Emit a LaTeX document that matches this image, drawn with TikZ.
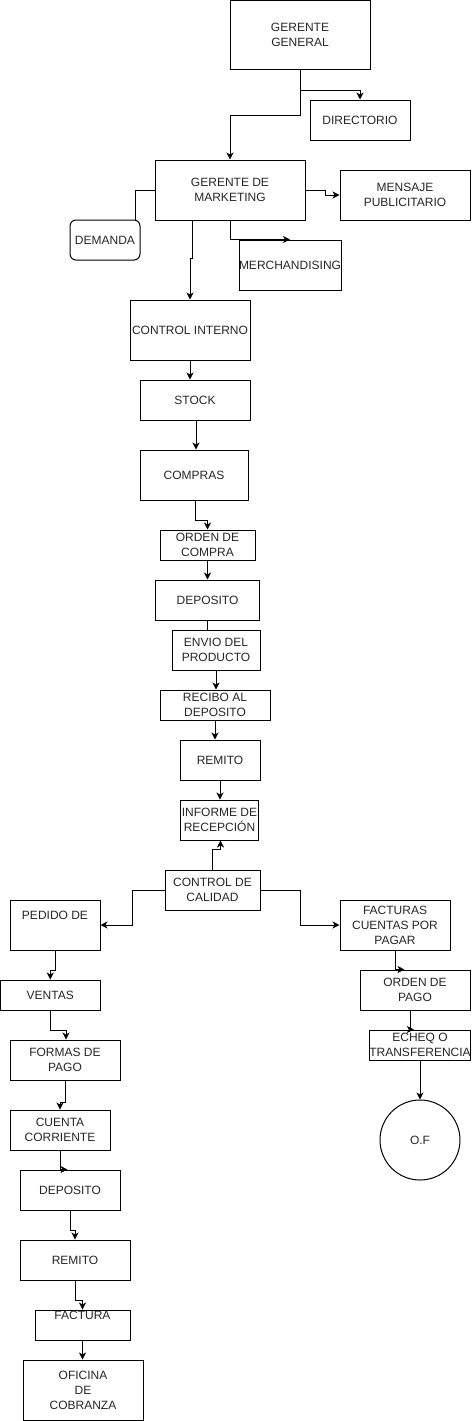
\documentclass[tikz,border=0pt]{standalone}
\usepackage{fontspec}
\setmainfont{Liberation Sans}
\usetikzlibrary{arrows.meta,calc}
\begin{document}
\begin{tikzpicture}[x=1pt,y=-1pt,
  box/.style={draw, line width=1pt, inner sep=0pt, align=center,
    font=\fontsize{12}{15}\selectfont, text=black!85},
  arr/.style={-{Stealth[length=7pt,width=7pt,inset=2pt]}, line width=1pt},
  ln/.style={line width=1pt}]
\useasboundingbox (0,0) rectangle (471,1421);
% nodes
\node[box, minimum width=140pt, minimum height=69.5pt] (gg) at (300,35.25) {GERENTE\\GENERAL};
\node[box, minimum width=100pt, minimum height=40pt] (dir) at (360,120) {DIRECTORIO};
\node[box, minimum width=150pt, minimum height=60pt] (gm) at (230,190) {GERENTE DE\\MARKETING};
\node[box, minimum width=130pt, minimum height=50pt] (msg) at (405,195) {MENSAJE\\PUBLICITARIO};
\node[box, rounded corners=6pt, minimum width=70pt, minimum height=40pt] (dem) at (105,240) {DEMANDA};
\node[box, minimum width=100pt, minimum height=50pt] (mer) at (290,265) {MERCHANDISING};
\node[box, minimum width=120pt, minimum height=60pt] (ci) at (190,330) {CONTROL INTERNO};
\node[box, minimum width=110pt, minimum height=40pt] (stock) at (195,400) {STOCK};
\node[box, minimum width=108pt, minimum height=50pt] (comp) at (194,475) {COMPRAS};
\node[box, minimum width=95pt, minimum height=30pt] (oc) at (207.5,545) {ORDEN DE\\COMPRA};
\node[box, minimum width=104pt, minimum height=40pt] (dep) at (207.5,600) {DEPOSITO};
\node[box, minimum width=88pt, minimum height=40pt] (env) at (216,650) {ENVIO DEL\\PRODUCTO};
\node[box, minimum width=110pt, minimum height=30pt] (rec) at (215,705) {RECIBO AL\\DEPOSITO};
\node[box, minimum width=80pt, minimum height=40pt] (rem) at (220,760) {REMITO};
\node[box, minimum width=78pt, minimum height=40pt] (inf) at (219.5,820) {INFORME DE\\RECEPCIÓN};
\node[box, minimum width=95pt, minimum height=40pt] (cc) at (212.5,890) {CONTROL DE\\CALIDAD};
\node[box, minimum width=90pt, minimum height=50pt] (ped) at (55,925) {PEDIDO DE\\\strut};
\node[box, minimum width=110pt, minimum height=50pt] (fac) at (395,925) {FACTURAS\\CUENTAS POR\\PAGAR};
\node[box, minimum width=99.5pt, minimum height=30pt] (ven) at (50.25,995) {VENTAS};
\node[box, minimum width=110pt, minimum height=40pt] (for) at (65,1060) {FORMAS DE\\PAGO};
\node[box, minimum width=110pt, minimum height=40pt] (op) at (415,990) {ORDEN DE\\PAGO};
\node[box, minimum width=100pt, minimum height=30pt] (ech) at (420,1045) {ECHEQ O\\TRANSFERENCIA};
\node[box, circle, minimum size=80pt] (of) at (420,1140) {O.F};
\node[box, minimum width=100pt, minimum height=40pt] (cta) at (60,1130) {CUENTA\\CORRIENTE};
\node[box, minimum width=100pt, minimum height=40pt] (dep2) at (70,1190) {DEPOSITO};
\node[box, minimum width=110pt, minimum height=40pt] (rem2) at (75,1260) {REMITO};
\node[box, minimum width=95pt, minimum height=30pt] (fact) at (82.5,1325) {FACTURA\\\strut};
\node[box, minimum width=120pt, minimum height=60pt] (ofi) at (83,1390) {OFICINA\\DE\\COBRANZA};
% connectors
\draw[arr] (gg.south) -- ++(0,20) -| (dir.north);
\draw[arr] (gg.south) -- ++(0,45) -| (gm.north);
\draw[arr] (gm.east) -- ++(20,0) |- (msg.west);
\draw[ln] (gm.west) -| ($(dem.north east)+(-5,0)$);
\draw[arr] (gm.south) |- (mer.north);
\draw[arr] ($(gm.south)+(-38,0)$) -- ++(0,38) -| (ci.north);
\draw[arr] (ci.south) -- (ci.south |- stock.north);
\draw[arr] ($(stock.south)+(1,0)$) -- ($(comp.north)+(2,0)$);
\draw[arr] ($(comp.south)+(1,0)$) -- ++(0,20) -| (oc.north);
\draw[arr] (oc.south) -- (dep.north);
\draw[ln] (dep.south) -- (dep.south |- env.north);
\draw[arr] (env.south) -- (env.south |- rec.north);
\draw[arr] (rec.south) -- (rec.south |- rem.north);
\draw[arr] (rem.south) -- (rem.south |- inf.north);
\draw[arr] (cc.north) -- ++(0,-20) -| ($(inf.south)+(1,0)$);
\draw[arr] (cc.west) -- ++(-32,0) |- (ped.east);
\draw[arr] (cc.east) -- ++(40,0) |- (fac.west);
\draw[arr] (ped.south) -- ++(0,20) -| (ven.north);
\draw[arr] (ven.south) -- ++(0,20) -| ($(for.north)+(1,0)$);
\draw[arr] (fac.south) |- ($(op.north west)+(45,0)$);
\draw[arr] ($(op.south)+(-5,0)$) |- ($(ech.north west)+(45,0)$);
\draw[arr] (ech.south) -- (of.north);
\draw[arr] (for.south) -- ++(0,22) -| (cta.north);
\draw[arr] (cta.south) |- ($(dep2.north west)+(48,0)$);
\draw[arr] (dep2.south) -- ++(0,20) -| (rem2.north);
\draw[arr] (rem2.south) -- ++(0,20) -| (fact.north);
\draw[arr, line width=1.6pt] (fact.south) -- (fact.south |- ofi.north);
\end{tikzpicture}
\end{document}
